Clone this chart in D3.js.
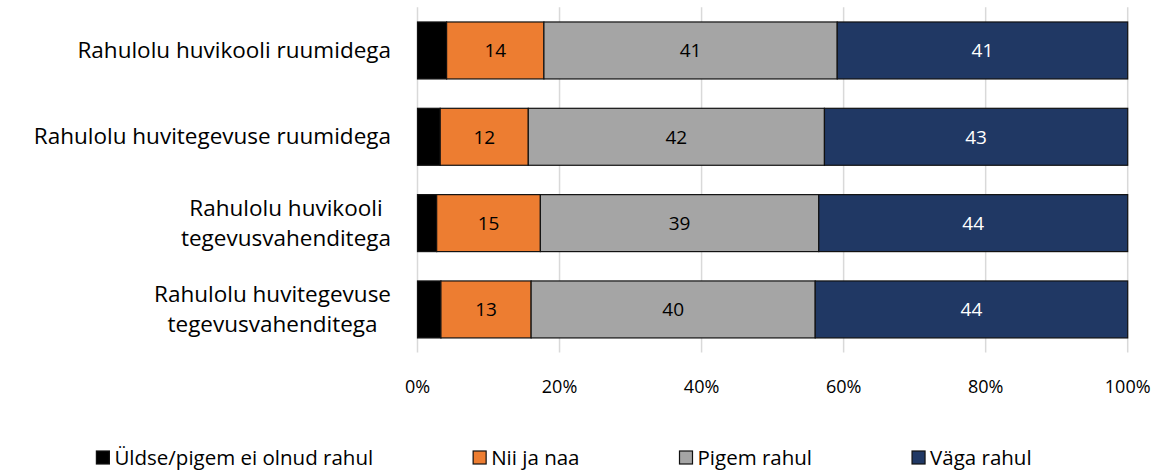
<!DOCTYPE html>
<html>
<head>
<meta charset="utf-8">
<script src="https://cdn.jsdelivr.net/npm/d3@7"></script>
<style>
  html, body { margin: 0; padding: 0; background: #fff; }
  svg { display: block; font-family: "Open Sans", Lato, sans-serif; }
</style>
</head>
<body>
<div id="chart"></div>
<script>
// categories, each one split into the lines it is drawn on
const categories = [
  ["Rahulolu huvikooli ruumidega"],
  ["Rahulolu huvitegevuse ruumidega"],
  ["Rahulolu huvikooli", "tegevusvahenditega"],
  ["Rahulolu huvitegevuse", "tegevusvahenditega"]
];

const seriesNames = ["Üldse/pigem ei olnud rahul", "Nii ja naa", "Pigem rahul", "Väga rahul"];

// share of answers, %
const notSatisfied    = [4.1, 3.2, 2.7, 3.3];
const neutral         = [13.7, 12.4, 14.6, 12.7];
const ratherSatisfied = [41.3, 41.7, 39.2, 40.0];
const verySatisfied   = [40.9, 42.7, 43.5, 44.0];

const xTicks = [0, 20, 40, 60, 80, 100];

const colors = ["#000000", "#ED7D31", "#A5A5A5", "#203864"];
const labelColors = [null, "#000000", "#000000", "#ffffff"];

const width = 1155, height = 470;

const svg = d3.select("#chart").append("svg")
  .attr("width", width)
  .attr("height", height);

const keys = categories.map((c, i) => i);
const rows = keys.map(i => ({
  idx: i,
  s0: notSatisfied[i],
  s1: neutral[i],
  s2: ratherSatisfied[i],
  s3: verySatisfied[i]
}));
const stack = d3.stack().keys(["s0", "s1", "s2", "s3"])(rows);

const x = d3.scaleLinear().domain([0, 100]).range([417.5, 1127.7]);
const y = d3.scaleBand().domain(keys).range([7.3, 352.6])
  .paddingInner(0.34).paddingOuter(0.17);

// vertical gridlines
svg.append("g")
  .selectAll("line")
  .data(xTicks)
  .join("line")
  .attr("x1", d => x(d)).attr("x2", d => x(d))
  .attr("y1", y.range()[0]).attr("y2", y.range()[1])
  .attr("stroke", "#d9d9d9")
  .attr("stroke-width", 1.5);

// bars
const layers = svg.append("g")
  .selectAll("g")
  .data(stack)
  .join("g")
  .attr("fill", (d, i) => colors[i]);

layers.selectAll("rect")
  .data(d => d)
  .join("rect")
  .attr("x", d => x(d[0]))
  .attr("y", d => y(d.data.idx))
  .attr("width", d => x(d[1]) - x(d[0]))
  .attr("height", y.bandwidth())
  .attr("stroke", "#111")
  .attr("stroke-width", 1.2);

// data labels (no label on the black segment)
layers.filter((d, i) => i > 0)
  .selectAll("text")
  .data(d => d)
  .join("text")
  .attr("x", d => (x(d[0]) + x(d[1])) / 2)
  .attr("y", d => y(d.data.idx) + y.bandwidth() / 2)
  .attr("dy", "0.36em")
  .attr("text-anchor", "middle")
  .attr("font-size", "19px")
  .attr("fill", function () { return labelColors[d3.select(this.parentNode).datum().index]; })
  .text(d => Math.round(d[1] - d[0]));

// x axis tick labels
svg.append("g")
  .selectAll("text")
  .data(xTicks)
  .join("text")
  .attr("x", d => x(d))
  .attr("y", 393)
  .attr("text-anchor", "middle")
  .attr("font-size", "18px")
  .attr("fill", "#000")
  .text(d => d + "%");

// category labels, multi-line ones centred on their own block
const labelRight = 391;
const lineGap = 30;
categories.forEach((lines, i) => {
  const g = svg.append("g");
  const cy = y(i) + y.bandwidth() / 2;
  const texts = lines.map((ln, j) => g.append("text")
    .attr("y", cy + (j - (lines.length - 1) / 2) * lineGap)
    .attr("dy", "0.34em")
    .attr("font-size", "22.5px")
    .attr("fill", "#000")
    .text(ln));
  const maxW = d3.max(texts, t => t.node().getComputedTextLength());
  texts.forEach(t => t.attr("x", labelRight - maxW / 2).attr("text-anchor", "middle"));
});

// legend, laid out from the text widths
const legend = svg.append("g");
const items = seriesNames.map((name, i) => {
  const it = legend.append("g");
  it.append("rect")
    .attr("x", 0).attr("y", 451)
    .attr("width", 13).attr("height", 13)
    .attr("fill", colors[i])
    .attr("stroke", "#111")
    .attr("stroke-width", 1.2);
  const t = it.append("text")
    .attr("x", 18).attr("y", 465)
    .attr("font-size", "20.5px")
    .attr("fill", "#000")
    .text(name);
  return { g: it, w: 18 + t.node().getComputedTextLength() };
});
const gap = 100;
const total = d3.sum(items, d => d.w) + gap * (items.length - 1);
let cx = 564 - total / 2;
items.forEach(d => {
  d.g.attr("transform", `translate(${cx},0)`);
  cx += d.w + gap;
});
</script>
</body>
</html>
